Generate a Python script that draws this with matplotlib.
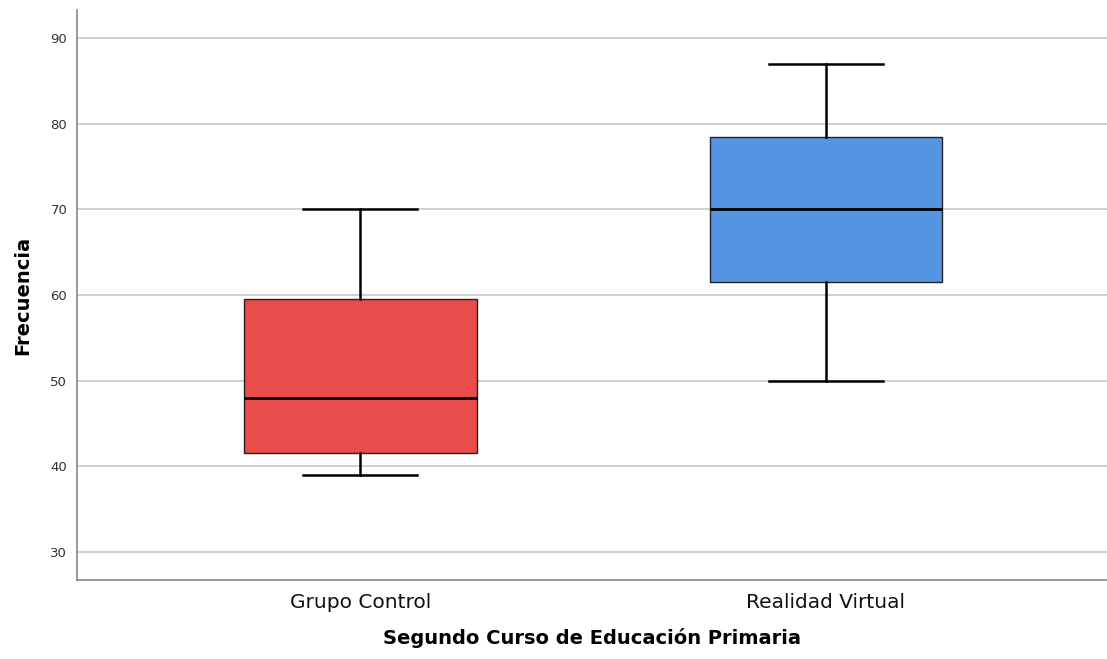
import matplotlib.pyplot as plt

# Datos
grupos = ["Grupo Control", "Realidad Virtual"]
whislo = [39, 50]
q1 = [41.5, 61.5]
med = [48, 70]
q3 = [59.5, 78.5]
whishi = [70, 87]
colores = ["#EA4B4B", "#5495E3"]

plt.rcParams["font.family"] = ["DejaVu Sans"]

fig = plt.figure(figsize=(11.07, 6.59), dpi=100)
ax = fig.add_axes([77 / 1107, 79 / 659, 1 - 77 / 1107, 570 / 659])

stats = []
for i, g in enumerate(grupos):
    stats.append({"label": g, "whislo": whislo[i], "q1": q1[i], "med": med[i],
                  "q3": q3[i], "whishi": whishi[i], "fliers": []})

bp = ax.bxp(stats, positions=[0, 1], widths=0.5, patch_artist=True,
            showfliers=False,
            boxprops=dict(linewidth=1.0, edgecolor="#222222"),
            medianprops=dict(color="black", linewidth=2),
            whiskerprops=dict(color="black", linewidth=1.8),
            capprops=dict(color="black", linewidth=1.8),
            capwidths=0.245)
for patch, c in zip(bp["boxes"], colores):
    patch.set_facecolor(c)

ax.set_xlim(-0.609, 1.604)
ax.set_ylim(26.73, 93.27)
ax.set_yticks([30, 40, 50, 60, 70, 80, 90])
ax.yaxis.grid(True, color="#c8c8c8", linewidth=1.2)
ax.set_axisbelow(True)

for s in ["top", "right"]:
    ax.spines[s].set_visible(False)
for s in ["left", "bottom"]:
    ax.spines[s].set_color("#888888")
    ax.spines[s].set_linewidth(1.2)

ax.tick_params(axis="both", length=0)
ax.tick_params(axis="y", labelsize=9.5, colors="#333333", pad=7)
ax.tick_params(axis="x", labelsize=14.5, colors="#111111", pad=9)

ax.set_xlabel("Segundo Curso de Educación Primaria", fontsize=14,
              fontweight="bold", labelpad=12)
ax.set_ylabel("Frecuencia", fontsize=14, fontweight="bold", labelpad=13)

fig.savefig("out.png", dpi=100)
